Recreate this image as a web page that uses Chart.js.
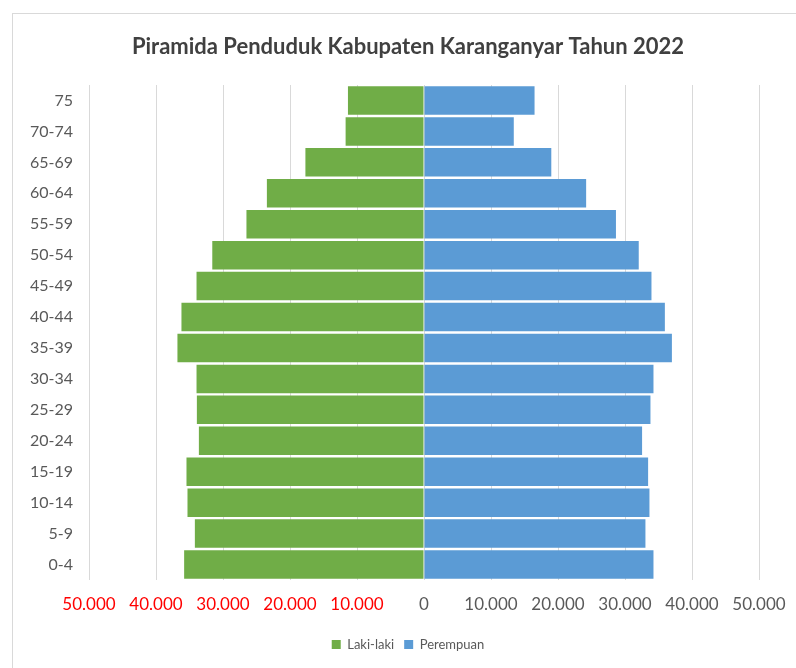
<!DOCTYPE html>
<html>
<head>
<meta charset="utf-8">
<script src="https://cdn.jsdelivr.net/npm/chart.js@4"></script>
<style>
  body { margin: 0; background: #fff; }
  #wrap { position: relative; width: 796px; height: 668px; overflow: hidden; }
  #frame { position: absolute; left: 12px; top: 13px; width: 800px; height: 700px;
           border-top: 1px solid #d9d9d9; border-left: 1px solid #d9d9d9; }
  canvas { position: absolute; left: 0; top: 0; }
</style>
</head>
<body>
<div id="wrap">
  <div id="frame"></div>
  <canvas id="pyramidChart" width="796" height="668"></canvas>
</div>
<script>
// kelompok umur, dari atas ke bawah
const ageGroups = ['75', '70-74', '65-69', '60-64', '55-59', '50-54', '45-49', '40-44',
                   '35-39', '30-34', '25-29', '20-24', '15-19', '10-14', '5-9', '0-4'];

const lakiLaki = [11350, 11700, 17700, 23450, 26500, 31600, 33950, 36200,
                  36800, 33950, 33900, 33600, 35450, 35300, 34200, 35800];

const perempuan = [16500, 13400, 19000, 24200, 28650, 32050, 33950, 35950,
                   37000, 34250, 33800, 32550, 33450, 33650, 33050, 34250];

const xTicks = { min: -50000, max: 50000, step: 10000 };

function formatNum(v) {
    return String(Math.abs(v)).replace(/\B(?=(\d{3})+(?!\d))/g, '.');
}

const fontFamily = 'Lato, "Open Sans", sans-serif';
const yFontSize = 16;

// lebar label umur terpanjang, dipakai untuk menggeser label (mirror) ke kiri sumbu
const measureCtx = document.createElement('canvas').getContext('2d');
measureCtx.font = yFontSize + 'px ' + fontFamily;
const widestLabel = Math.max(...ageGroups.map(l => measureCtx.measureText(l).width));

const chart = new Chart(document.getElementById('pyramidChart'), {
    type: 'bar',
    data: {
        labels: ageGroups,
        datasets: [{
            label: 'Laki-laki',
            data: lakiLaki.map(v => -v),
            backgroundColor: '#70AD47',
            borderWidth: 0
        }, {
            label: 'Perempuan',
            data: perempuan,
            backgroundColor: '#5B9BD5',
            borderWidth: 0
        }]
    },
    options: {
        responsive: false,
        animation: false,
        indexAxis: 'y',
        categoryPercentage: 1,
        barPercentage: 0.92,
        // padding kiri lebih besar supaya judul & legenda bergeser ke kanan
        layout: { padding: { top: 34, left: 57, right: 37, bottom: 7 } },
        scales: {
            x: {
                stacked: true,
                min: xTicks.min,
                max: xTicks.max,
                afterFit: s => { s.height = 48; },
                border: { display: false },
                grid: { color: '#d9d9d9', drawTicks: false },
                ticks: {
                    stepSize: xTicks.step,
                    padding: 10,
                    font: { family: fontFamily, size: 17, lineHeight: 1.67 },
                    color: ctx => ctx.tick.value < 0 ? '#ff0000' : '#595959',
                    callback: v => formatNum(v)
                }
            },
            y: {
                stacked: true,
                afterFit: s => { s.width = 32; },
                border: { display: false },
                grid: { display: false, drawTicks: false },
                ticks: {
                    mirror: true,
                    crossAlign: 'far',
                    padding: -16 - widestLabel,
                    font: { family: fontFamily, size: yFontSize },
                    color: '#595959'
                }
            }
        },
        plugins: {
            title: {
                display: true,
                text: 'Piramida Penduduk Kabupaten Karanganyar Tahun 2022',
                color: '#404040',
                font: { family: fontFamily, size: 22, weight: 'bold' },
                padding: { top: 0, bottom: 24.6 }
            },
            legend: {
                position: 'bottom',
                labels: {
                    boxWidth: 9,
                    boxHeight: 9,
                    padding: 10,
                    color: '#595959',
                    font: { family: fontFamily, size: 13 }
                }
            },
            tooltip: { enabled: false }
        }
    }
});
</script>
</body>
</html>
